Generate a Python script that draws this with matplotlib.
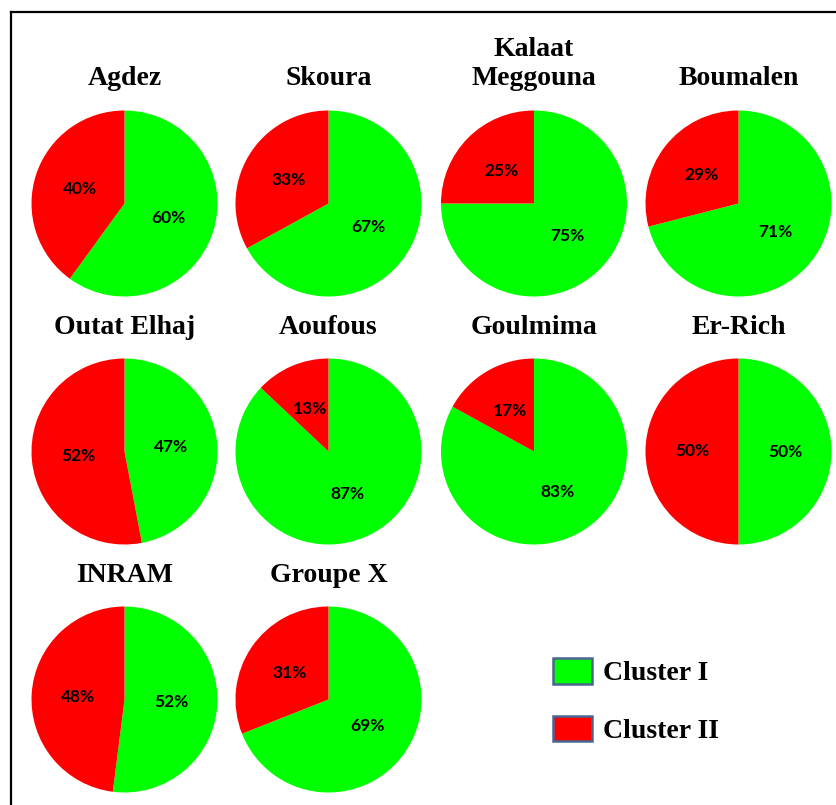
import matplotlib
matplotlib.use("Agg")
import matplotlib.pyplot as plt
from matplotlib.lines import Line2D
from matplotlib.patches import Patch

sites = ["Agdez", "Skoura", "Kalaat\nMeggouna", "Boumalen",
         "Outat Elhaj", "Aoufous", "Goulmima", "Er-Rich",
         "INRAM", "Groupe X"]
cluster_1 = [60, 67, 75, 71, 47, 87, 83, 50, 52, 69]
cluster_2 = [40, 33, 25, 29, 53, 13, 17, 50, 48, 31]
legend_labels = ["Cluster I", "Cluster II"]
colors = ["#00ff00", "#ff0000"]

W, H = 837, 805
fig = plt.figure(figsize=(W / 100, H / 100), dpi=100)

# pixel layout of the grid
col_x = [124.5, 328.5, 534, 738.5]
row_y = [203.5, 451.5, 699.5]
title_base = [85, 334, 582]
r = 93

def px(x, y):
    return x / W, 1 - y / H

for i, name in enumerate(sites):
    row, col = divmod(i, 4)
    cx, cy = col_x[col], row_y[row]
    x0, y0 = px(cx - r, cy + r)
    ax = fig.add_axes([x0, y0, 2 * r / W, 2 * r / H])
    ax.pie([cluster_1[i], cluster_2[i]], colors=colors, startangle=90,
           counterclock=False, autopct="%d%%", pctdistance=0.5,
           wedgeprops=dict(linewidth=0),
           textprops=dict(fontsize=12.5, fontweight="bold", family="Lato"))
    ax.set_xlim(-1, 1)
    ax.set_ylim(-1, 1)
    ax.set_aspect("equal")
    tx, ty = px(cx, title_base[row] + 6)
    fig.text(tx, ty, name, ha="center", va="bottom", fontsize=20,
             fontweight="bold", family="Liberation Serif", linespacing=1.2)

handles = [Patch(facecolor=c, edgecolor="#4a6690", linewidth=1.8) for c in colors]
lx, ly = px(553, 658)
fig.legend(handles, legend_labels, loc="upper left", bbox_to_anchor=(lx, ly),
           frameon=False, borderpad=0, borderaxespad=0, handlelength=1.4,
           handleheight=1.05, handletextpad=0.4, labelspacing=1.05,
           prop=dict(family="Liberation Serif", weight="bold", size=20))

# frame lines on the left and top
fig.add_artist(Line2D([11 / W, 11 / W], [0, 1 - 12 / H], color="black",
                      linewidth=1.6, transform=fig.transFigure))
fig.add_artist(Line2D([11 / W, 1], [1 - 12 / H, 1 - 12 / H], color="black",
                      linewidth=1.6, transform=fig.transFigure))

fig.savefig("out.png", dpi=100, facecolor="white")
